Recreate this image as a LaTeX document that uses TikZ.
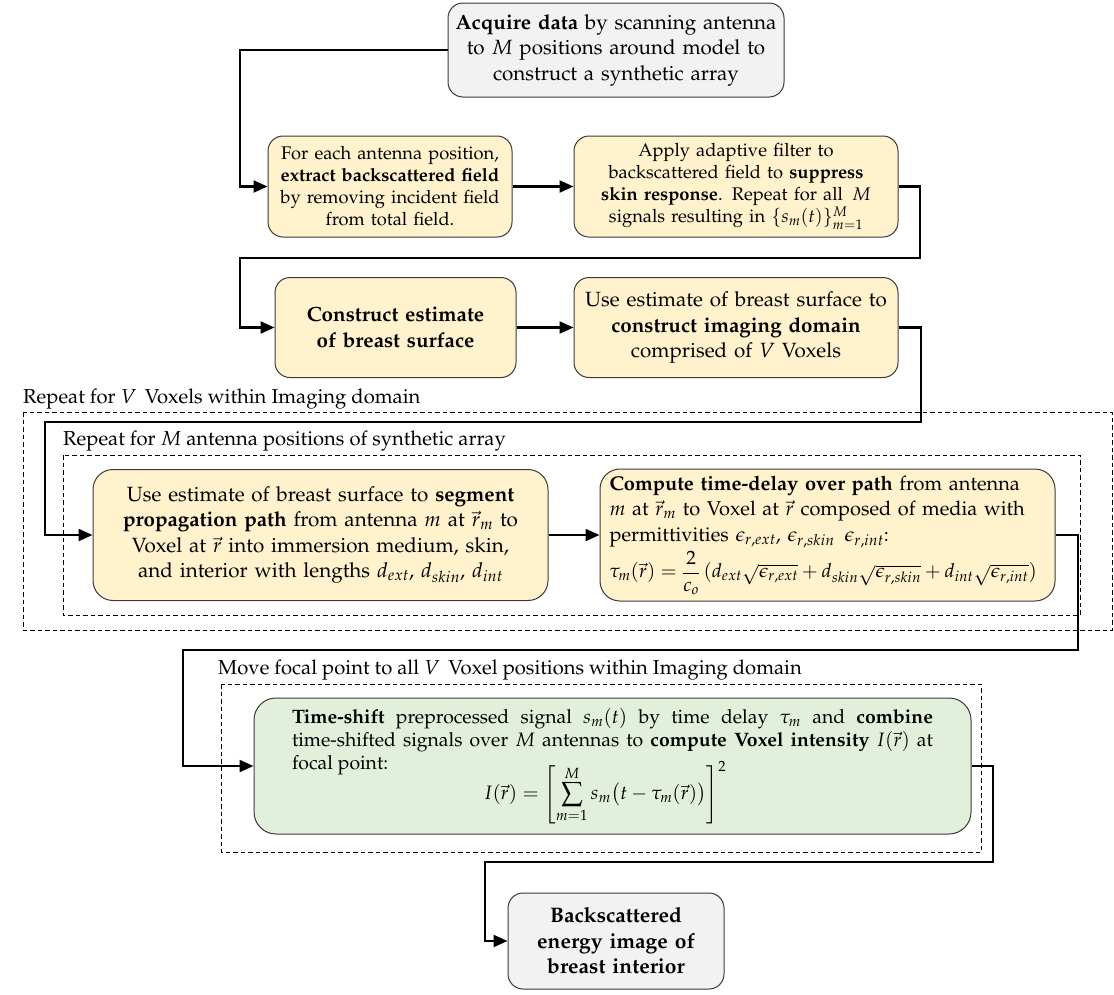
\documentclass[tikz,border=0pt]{standalone}
\usepackage[T1]{fontenc}
\usepackage{mathpazo}
\usepackage{amsmath}
\usetikzlibrary{arrows.meta}
\definecolor{ylw}{HTML}{FFF2CC}
\definecolor{gry}{HTML}{F2F2F2}
\definecolor{grn}{HTML}{E2EFDA}
\definecolor{bdr}{HTML}{3A3A3A}
\begin{document}
\begin{tikzpicture}[x=1pt,y=-1pt,
  procbox/.style={draw=bdr, line width=1pt, rounded corners=15pt, inner sep=0pt,
    font=\fontsize{20.6}{25.5}\selectfont, align=center},
  smalltext/.style={font=\fontsize{18.3}{22}\selectfont},
  yel/.style={fill=ylw}, gray box/.style={fill=gry}, green box/.style={fill=grn},
  conn/.style={line width=2.2pt, -{Triangle[length=14pt,width=12pt]}},
  dashbox/.style={draw=black, line width=0.9pt, dash pattern=on 4.5pt off 3pt},
  looplabel/.style={anchor=south west, inner sep=0pt, font=\fontsize{20.2}{24}\selectfont}]
\useasboundingbox (0,0) rectangle (1114,994);

% dashed loop frames
\draw[dashbox] (23,412) rectangle (1112,630);
\draw[dashbox] (63,455) rectangle (1080,615);
\draw[dashbox] (221,684) rectangle (981,852);
\node[looplabel] (l1) at (23,409) {Repeat for $V$\, Voxels within Imaging domain};
\node[looplabel] (l2) at (63,451) {Repeat for $M$ antenna positions of synthetic array};
\node[looplabel] (l3) at (218,680) {Move focal point to all $V$\, Voxel positions within Imaging domain};

% boxes
\node[procbox,gray box,minimum width=336pt,minimum height=94pt,text width=330pt] (b1) at (616,50)
 {\textbf{Acquire data} by scanning antenna\\ to $M$ positions around model to\\ construct a synthetic array};
\node[procbox,yel,smalltext,minimum width=244pt,minimum height=101pt,text width=240pt] (b2) at (390,186.5)
 {For each antenna position,\\ \textbf{extract backscattered field}\\ by removing incident field\\ from total field.};
\node[procbox,yel,smalltext,minimum width=324pt,minimum height=101pt,text width=318pt] (b3) at (736,186.5)
 {Apply adaptive filter to\\ backscattered field to \textbf{suppress}\\ \textbf{skin response}. Repeat for all\, $M$\\ signals resulting in $\{s_m(t)\}_{m=1}^{M}$};
\node[procbox,yel,minimum width=241pt,minimum height=100pt,text width=235pt] (b4) at (395.5,327.5)
 {\textbf{Construct estimate}\\ \textbf{of breast surface}};
\node[procbox,yel,minimum width=324pt,minimum height=100pt,text width=318pt] (b5) at (736,327.5)
 {Use estimate of breast surface to\\ \textbf{construct imaging domain}\\ comprised of $V$ Voxels};
\node[procbox,yel,rounded corners=20pt,minimum width=455pt,minimum height=131pt,text width=440pt] (b6) at (320.5,535)
 {Use estimate of breast surface to \textbf{segment}\\ \textbf{propagation path} from antenna $m$ at $\vec{r}_m$ to\\ Voxel at $\vec{r}$ into immersion medium, skin,\\ and interior with lengths $d_{ext}$, $d_{skin}$, $d_{int}$};
\node[procbox,yel,rounded corners=20pt,minimum width=455pt,minimum height=132pt,text width=436pt,align=left,font=\fontsize{20}{25.5}\selectfont] (b7) at (827.5,535)
 {\textbf{Compute time-delay over path} from antenna\\ $m$ at $\vec{r}_m$ to Voxel at $\vec{r}$ composed of media with\\ permittivities $\epsilon_{r,ext}$, $\epsilon_{r,skin}$\, $\epsilon_{r,int}$:\\[3pt]
 {\fontsize{19.3}{23}\selectfont $\tau_m(\vec{r}) = \dfrac{2}{c_o}\,(d_{ext}\sqrt{\epsilon_{r,ext}}+d_{skin}\sqrt{\epsilon_{r,skin}}+d_{int}\sqrt{\epsilon_{r,int}})$}};
\node[procbox,green box,rounded corners=22pt,minimum width=717pt,minimum height=136pt,text width=641pt,align=justify,font=\fontsize{19.4}{23}\selectfont] (b8) at (612.5,766)
 {\textbf{Time-shift} preprocessed signal $s_m(t)$ by time delay $\tau_m$ and \textbf{combine}\linebreak time-shifted signals over $M$ antennas to \textbf{compute Voxel intensity} $I(\vec{r})$ at\linebreak focal point:\par\vspace{-15pt}\centerline{\hspace{-15pt}$\displaystyle I(\vec{r}) = \left[\sum_{m=1}^{M} s_m\bigl(t-\tau_m(\vec{r})\bigr)\right]^2$}};
\node[procbox,gray box,minimum width=216pt,minimum height=96pt,text width=205pt,font=\fontsize{21}{25.5}\selectfont] (b9) at (616,941)
 {\textbf{Backscattered}\\ \textbf{energy image of}\\ \textbf{breast interior}};

% bend points
\coordinate (k1) at (240,50);
\coordinate (k2a) at (920,258);
\coordinate (k2b) at (240,258);
\coordinate (k3a) at (921,422);
\coordinate (k3b) at (45,422);
\coordinate (k4a) at (1078,650);
\coordinate (k4b) at (183,650);
\coordinate (k5a) at (993,862);
\coordinate (k5b) at (485,862);

% connectors
\draw[conn] (b1.west) -- (k1) |- (b2.west);
\draw[conn] (b2.east) -- (b3.west);
\draw[conn] (b3.east) -| (k2a) -- (k2b) |- (b4.west);
\draw[conn] (b4.east) -- (b5.west);
\draw[conn] (b5.east) -| (k3a) -- (k3b) |- (b6.west);
\draw[conn] (b6.east) -- (b7.west);
\draw[conn] (b7.east) -| (k4a) -- (k4b) |- (b8.west);
\draw[conn] (b8.east) -| (k5a) -- (k5b) |- (b9.west);
\end{tikzpicture}
\end{document}
